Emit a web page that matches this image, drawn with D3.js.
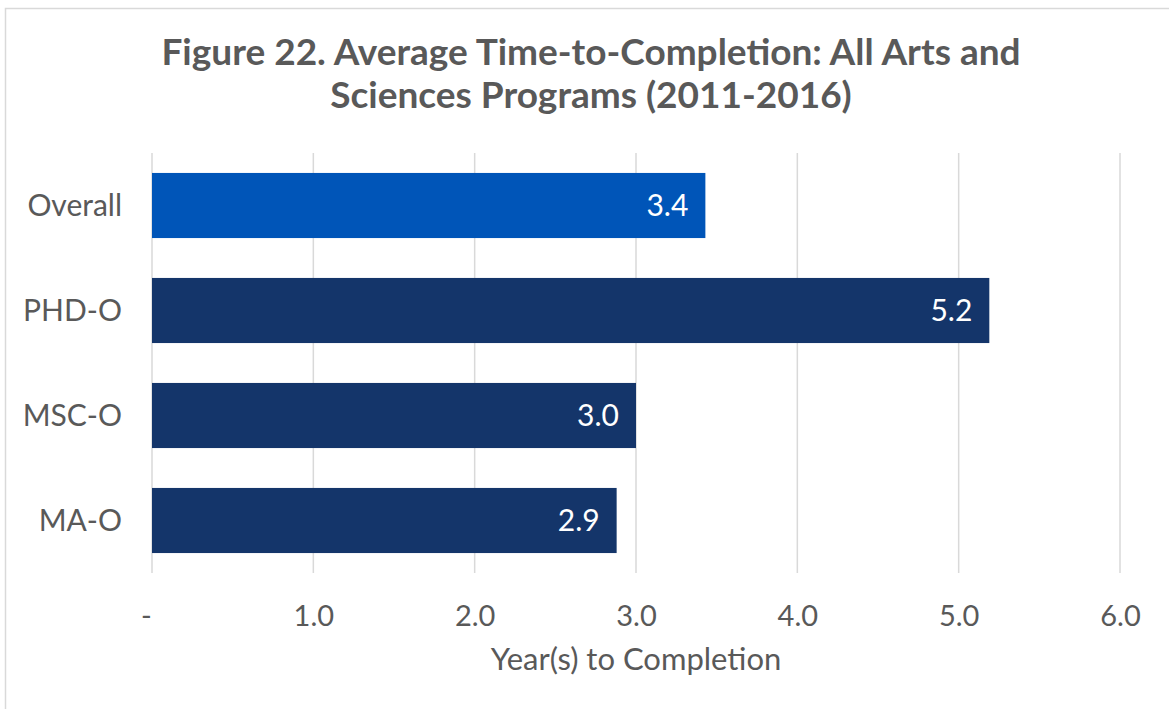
<!DOCTYPE html>
<html>
<head>
<meta charset="utf-8">
<script src="https://cdn.jsdelivr.net/npm/d3@7"></script>
<style>
  html, body { margin: 0; padding: 0; background: #fff; }
  svg { display: block; }
</style>
</head>
<body>
<script>
const categories = ["Overall", "PHD-O", "MSC-O", "MA-O"];
const values = [3.43, 5.19, 3.0, 2.88];
const valueLabels = ["3.4", "5.2", "3.0", "2.9"];
const tickValues = [0, 1, 2, 3, 4, 5, 6];
const tickLabels = ["-", "1.0", "2.0", "3.0", "4.0", "5.0", "6.0"];
const titleLines = ["Figure 22. Average Time-to-Completion: All Arts and", "Sciences Programs (2011-2016)"];
const xAxisTitle = "Year(s) to Completion";
const barColors = ["#0055b8", "#14356a", "#14356a", "#14356a"];

const W = 1169, H = 709;
const margin = { left: 152, right: 49, top: 153, bottom: 136 };
const textColor = "#595959";
const font = "Lato, 'Open Sans', sans-serif";

const svg = d3.select("body").append("svg").attr("width", W).attr("height", H);

// outer chart border
svg.append("rect").attr("x", 5.5).attr("y", 8.5).attr("width", W + 20).attr("height", H + 20)
  .attr("fill", "#fff").attr("stroke", "#d9d9d9").attr("stroke-width", 1.5);

const x = d3.scaleLinear().domain([0, 6]).range([margin.left, W - margin.right]);
const y = d3.scaleBand().domain(categories).range([margin.top, H - margin.bottom])
  .paddingInner(0.38).paddingOuter(0.19);

// gridlines
svg.append("g").selectAll("line").data(tickValues).join("line")
  .attr("x1", d => x(d)).attr("x2", d => x(d))
  .attr("y1", margin.top).attr("y2", H - margin.bottom)
  .attr("stroke", "#d9d9d9").attr("stroke-width", 1.5);

// x axis tick labels
const xAxis = d3.axisBottom(x).tickValues(tickValues)
  .tickFormat((d, i) => tickLabels[i]).tickSize(0).tickPadding(0);
const gx = svg.append("g").attr("transform", `translate(0,${H - margin.bottom})`).call(xAxis);
gx.select(".domain").remove();
gx.selectAll("text").attr("dy", null).attr("y", 53)
  .attr("fill", textColor).style("font-family", font).style("font-size", "29px");
gx.selectAll(".tick").filter(d => d === 0).select("text").attr("dx", -6);

// y axis labels
const yAxis = d3.axisLeft(y).tickSize(0).tickPadding(30);
const gy = svg.append("g").attr("transform", `translate(${margin.left},0)`).call(yAxis);
gy.select(".domain").remove();
gy.selectAll("text").attr("fill", textColor).style("font-family", font).style("font-size", "30px")
  .attr("dy", "0.35em");

// bars
svg.append("g").selectAll("rect").data(categories).join("rect")
  .attr("x", x(0))
  .attr("y", d => y(d))
  .attr("width", (d, i) => x(values[i]) - x(0))
  .attr("height", y.bandwidth())
  .attr("fill", (d, i) => barColors[i]);

// value labels
svg.append("g").selectAll("text").data(categories).join("text")
  .attr("x", (d, i) => x(values[i]) - 17)
  .attr("y", d => y(d) + y.bandwidth() / 2)
  .attr("dy", "0.36em")
  .attr("text-anchor", "end")
  .attr("fill", "#fff")
  .style("font-family", font).style("font-size", "30px")
  .text((d, i) => valueLabels[i]);

// axis title
svg.append("text")
  .attr("x", (x(0) + x(6)) / 2).attr("y", 670)
  .attr("text-anchor", "middle").attr("fill", textColor)
  .style("font-family", font).style("font-size", "31px")
  .text(xAxisTitle);

// title
svg.append("g").selectAll("text").data(titleLines).join("text")
  .attr("x", 591).attr("y", (d, i) => 65 + i * 43)
  .attr("text-anchor", "middle").attr("fill", textColor)
  .style("font-family", font).style("font-size", "37px").style("font-weight", "bold")
  .text(d => d);
</script>
</body>
</html>
